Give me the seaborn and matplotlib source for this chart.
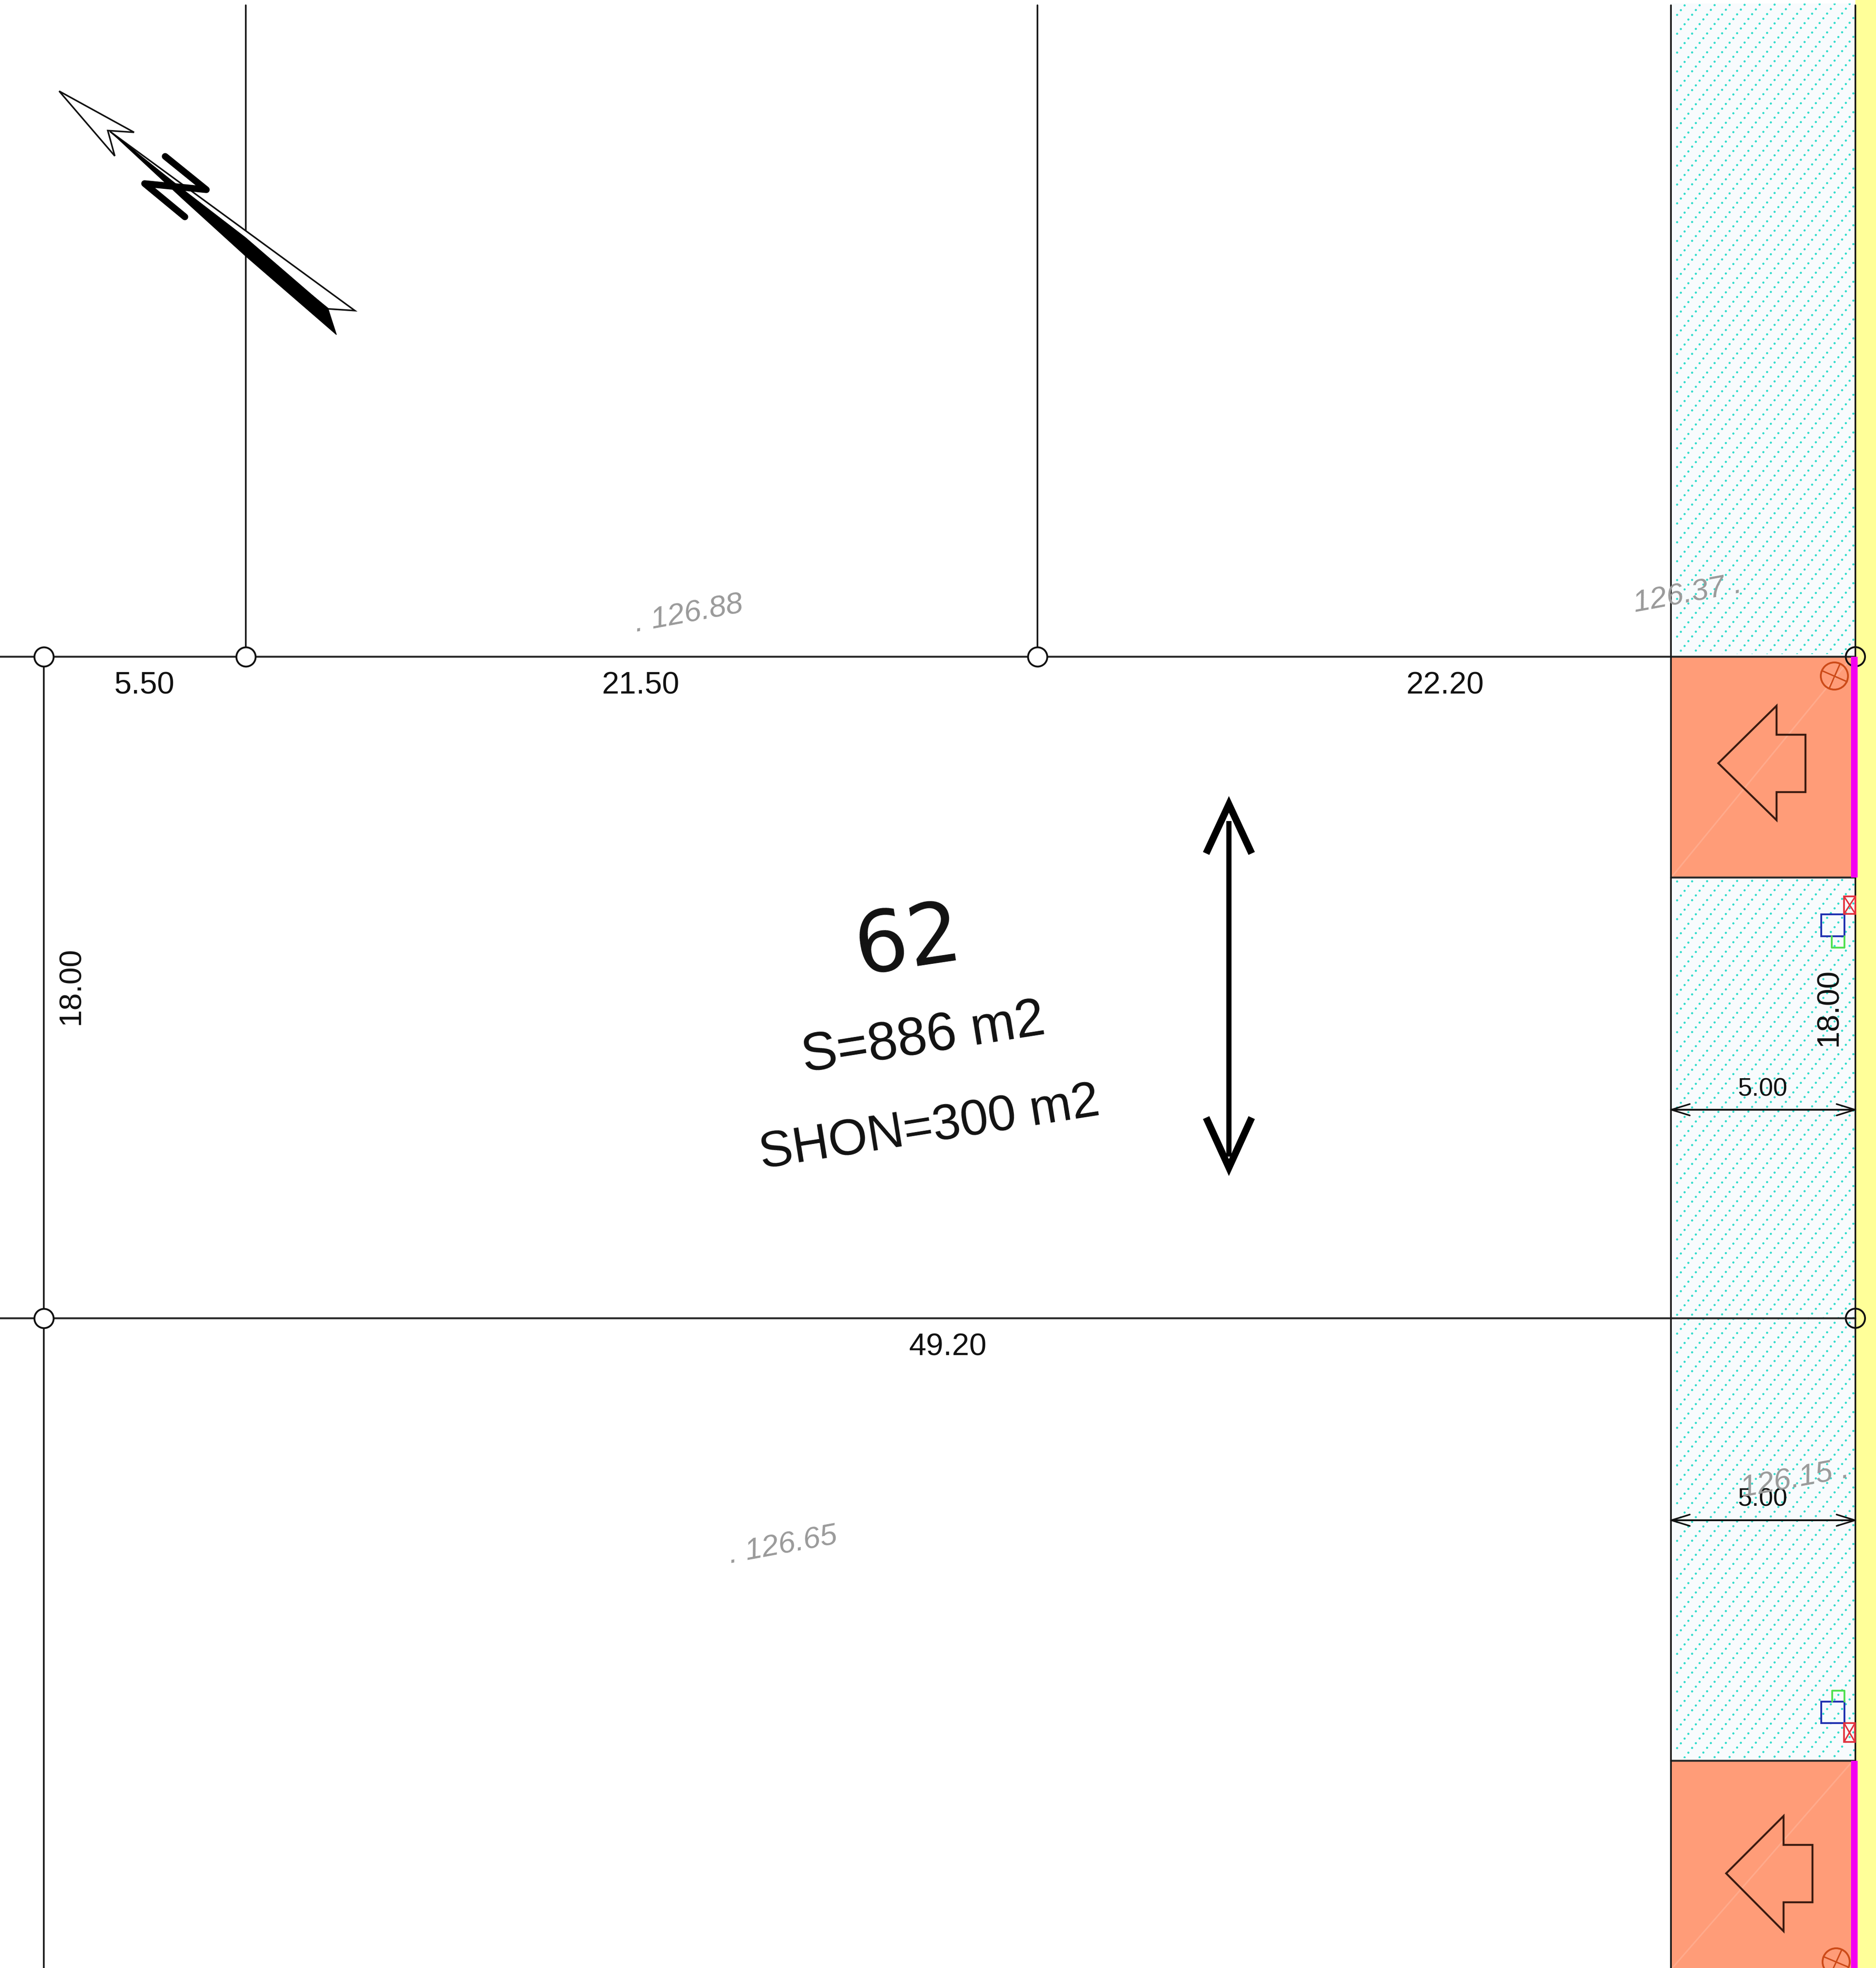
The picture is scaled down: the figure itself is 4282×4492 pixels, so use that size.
import numpy as np
import pandas as pd
import matplotlib
matplotlib.use('Agg')
import matplotlib.pyplot as plt
import matplotlib.patches as mpatches
import seaborn as sns

# plan coordinates, same units as the picture (y goes down)
WIDTH = 4282
HEIGHT = 4492

# parcel limits
h_line_x = [[0, 3812], [0, 3812], [3812, 4233], [3812, 4233], [3812, 4233], [3812, 4233]]
h_line_y = [[1499, 1499], [3009, 3009], [1499, 1499], [2003, 2003], [3009, 3009], [4019, 4019]]
v_line_x = [100, 561, 2368, 3814, 4235]
v_line_top = [1499, 12, 12, 12, 12]
v_line_bottom = [4492, 1499, 1499, 4492, 4492]

# corner markers of the lot
node_x = [100, 561, 2368, 100]
node_y = [1499, 1499, 1499, 3009]
open_node_x = [4235, 4235]
open_node_y = [1499, 3009]

# bands on the right side
hatch_top = [8, 2003]
hatch_bottom = [1499, 4019]
drive_top = [1499, 4019]
drive_bottom = [2003, 4492]

# block arrows in the drive zones
drive_arrow_x = [[3922, 4055, 4055, 4121, 4121, 4055, 4055],
                 [3940, 4071, 4071, 4137, 4137, 4071, 4071]]
drive_arrow_y = [[1742, 1611, 1677, 1677, 1808, 1808, 1872],
                 [4276, 4145, 4211, 4211, 4342, 4342, 4408]]

# network symbols
valve_x = [4187, 4191]
valve_y = [1543, 4478]
valve_cross = [[(4159, 1531), (4216, 1556)], [(4200, 1515), (4175, 1572)],
               [(4162, 4466), (4219, 4490)], [(4204, 4450), (4178, 4507)]]
blue_boxes = [(4157, 2087, 4210, 2137), (4157, 3884, 4210, 3933)]
red_boxes = [(4209, 2046, 4235, 2086), (4209, 3933, 4234, 3976)]
green_x = [[4181, 4181, 4210, 4210], [4182, 4182, 4210, 4210]]
green_y = [[2137, 2163, 2163, 2137], [3884, 3859, 3859, 3884]]

# north arrow
north_head_x = [135, 306, 246, 262]
north_head_y = [208, 302, 298, 356]
north_white_x = [251, 810, 749]
north_white_y = [300, 709, 705]
north_black_x = [251, 417, 560, 749, 768, 560, 417]
north_black_y = [300, 432, 542, 705, 764, 584, 454]
north_letter_x = [377, 471, 330, 422]
north_letter_y = [357, 433, 419, 495]

# dimension labels
dim_labels = ['5.50', '21.50', '22.20', '49.20']
dim_x = [329, 1462, 3298, 2163]
dim_y = [1566, 1566, 1566, 3076]
depth_labels = ['18.00', '18.00']
depth_x = [163, 4175]
depth_y = [2250, 2299]
road_labels = ['5.00', '5.00']
road_x = [4023, 4023]
road_y = [2486, 3422]
road_arrow_y = [2533, 3470]

# spot levels
level_labels = ['. 126.88', '126.37 .', '126.15 .', '. 126.65']
level_x = [1572, 3852, 4097, 1787]
level_y = [1402, 1357, 3377, 3528]

LOT_NUMBER = '62'
LOT_AREA = 'S=886 m2'
LOT_SHON = 'SHON=300 m2'

sns.set_theme(style='white')
plt.rcParams['font.family'] = ['Liberation Sans', 'DejaVu Sans']

fig, ax = plt.subplots(figsize=(WIDTH / 100, HEIGHT / 100), dpi=100)
fig.subplots_adjust(left=0, right=1, bottom=0, top=1)
ax.set_xlim(0, WIDTH)
ax.set_ylim(HEIGHT, 0)
ax.axis('off')

# coloured bands
ax.fill([4235, WIDTH, WIDTH, 4235], [0, 0, HEIGHT, HEIGHT], color='#FFFF99', lw=0, zorder=1)
for top, bottom in zip(hatch_top, hatch_bottom):
    ax.fill([3814, 4235, 4235, 3814], [top, top, bottom, bottom], color='#F8FBFD', lw=0, zorder=1)
    clip = mpatches.Rectangle((3824, top), 409, bottom - top - 6, transform=ax.transData)
    # dotted diagonal hatch, texture only
    for start in np.arange(2958 - 43 * 70, 2958 + 43 * 50, 43):
        ln, = ax.plot([3828, 4242], [start, start - 414 * 43 / 34], color='#33DCCB', lw=3.6,
                      ls=(0, (0.01, 2.75)), dash_capstyle='round', zorder=2)
        ln.set_clip_path(clip)
for top, bottom in zip(drive_top, drive_bottom):
    ax.fill([3814, 4235, 4235, 3814], [top, top, bottom, bottom], color='#FF9C78', lw=0, zorder=3)
ax.plot([3817, 4225], [2000, 1502], color='white', alpha=0.15, lw=2.5, zorder=3)
ax.plot([3817, 4225], [4492, 4024], color='white', alpha=0.15, lw=2.5, zorder=3)

# parcel lines
h_rows = [(i, x, y) for i, (xs, ys) in enumerate(zip(h_line_x, h_line_y)) for x, y in zip(xs, ys)]
h_df = pd.DataFrame(h_rows, columns=['seg', 'x', 'y'])
h_df['x'] = h_df['x'].replace({3812: 3814, 4233: 4235})
sns.lineplot(data=h_df, x='x', y='y', units='seg', estimator=None, sort=False, color='#2a2a2a',
             lw=3.2, legend=False, ax=ax, zorder=4)
v_rows = []
for i, (x, t, b) in enumerate(zip(v_line_x, v_line_top, v_line_bottom)):
    v_rows += [(i, x, t), (i, x, b)]
v_df = pd.DataFrame(v_rows, columns=['seg', 'x', 'y'])
sns.lineplot(data=v_df, x='x', y='y', units='seg', estimator=None, sort=False, color='#151515',
             lw=2.7, legend=False, ax=ax, zorder=4)
ax.set_xlim(0, WIDTH)
ax.set_ylim(HEIGHT, 0)
ax.set_xlabel('')
ax.set_ylabel('')

# drive zone symbols
for xs, ys in zip(drive_arrow_x, drive_arrow_y):
    ax.fill(xs, ys, facecolor='none', edgecolor='#3a1a10', lw=3.2, joinstyle='miter', zorder=5)
for x, y in zip(valve_x, valve_y):
    ax.add_patch(mpatches.Circle((x, y), 31, facecolor='none', edgecolor='#CC4A18', lw=3, zorder=5))
for (a, b) in valve_cross:
    ax.plot([a[0], b[0]], [a[1], b[1]], color='#CC4A18', lw=2.4, zorder=5)
for x0, y0, x1, y1 in blue_boxes:
    ax.fill([x0, x1, x1, x0], [y0, y0, y1, y1], facecolor='none', edgecolor='#2030B0', lw=3, zorder=5)
for x0, y0, x1, y1 in red_boxes:
    ax.fill([x0, x1, x1, x0], [y0, y0, y1, y1], facecolor='none', edgecolor='#E2303C', lw=2.8, zorder=5)
    ax.plot([x0, x1], [y0, y1], color='#E2303C', lw=2.4, zorder=5)
    ax.plot([x0, x1], [y1, y0], color='#E2303C', lw=2.4, zorder=5)
for xs, ys in zip(green_x, green_y):
    ax.plot(xs, ys, color='#50E050', lw=3, zorder=5)

# lot corners
sns.scatterplot(x=node_x, y=node_y, s=1000, color='white', edgecolor='#111111', linewidth=3,
                legend=False, ax=ax, zorder=6)
sns.scatterplot(x=open_node_x, y=open_node_y, s=1000, color='none', edgecolor='#111111', linewidth=3,
                legend=False, ax=ax, zorder=6)

# magenta frontage over the corner marker
for top, bottom in zip(drive_top, drive_bottom):
    ax.fill([4225, 4240, 4240, 4225], [top, top, bottom, bottom], color='#F400F0', lw=0, zorder=7)

# north arrow
ax.fill(north_head_x, north_head_y, facecolor='white', edgecolor='#111111', lw=2.6, zorder=5)
ax.fill(north_white_x, north_white_y, facecolor='white', edgecolor='#111111', lw=2.6, zorder=5)
ax.fill(north_black_x, north_black_y, color='black', lw=1, zorder=6)
ax.plot(north_letter_x, north_letter_y, color='black', lw=11, solid_joinstyle='round',
        solid_capstyle='round', zorder=6)

# double arrow showing the building direction
ax.plot([2805, 2805], [1874, 2640], color='black', lw=8.5, solid_capstyle='butt', zorder=5)
ax.plot([2753, 2805, 2857], [1948, 1836, 1948], color='black', lw=11.5, solid_joinstyle='miter',
        solid_capstyle='butt', zorder=5)
ax.plot([2753, 2805, 2857], [2551, 2665, 2551], color='black', lw=11.5, solid_joinstyle='miter',
        solid_capstyle='butt', zorder=5)

# road width arrows
for y in road_arrow_y:
    ax.plot([3814, 4235], [y, y], color='#111111', lw=3, zorder=5)
    ax.plot([3857, 3815, 3857], [y - 13, y, y + 13], color='#111111', lw=2.6, zorder=5)
    ax.plot([4192, 4234, 4192], [y - 13, y, y + 13], color='#111111', lw=2.6, zorder=5)

# texts
for label, x, y in zip(dim_labels, dim_x, dim_y):
    ax.text(x, y, label, fontsize=51, color='#111111', ha='center', va='center', zorder=8)
for label, x, y in zip(depth_labels, depth_x, depth_y):
    ax.text(x, y, label, fontsize=51, rotation=90, color='#111111', ha='center', va='center', zorder=8)
for label, x, y in zip(road_labels, road_x, road_y):
    ax.text(x, y, label, fontsize=42, color='#111111', ha='center', va='center', zorder=8)
for label, x, y in zip(level_labels, level_x, level_y):
    ax.text(x, y, label, fontsize=50, rotation=10.5, style='italic', color='#9a9a9a', ha='center',
            va='center', zorder=8)

ax.text(2073, 2152, LOT_NUMBER, fontsize=138, rotation=8.5, color='#111111', ha='center', va='center',
        family=['DejaVu Sans'], rotation_mode='anchor', zorder=8)
ax.text(2108, 2372, LOT_AREA, fontsize=88, rotation=9, color='#111111', ha='center', va='center',
        rotation_mode='anchor', zorder=8)
ax.text(2122, 2577, LOT_SHON, fontsize=83, rotation=9, color='#111111', ha='center', va='center',
        rotation_mode='anchor', zorder=8)

fig.savefig('out.png', dpi=100)
plt.close(fig)
